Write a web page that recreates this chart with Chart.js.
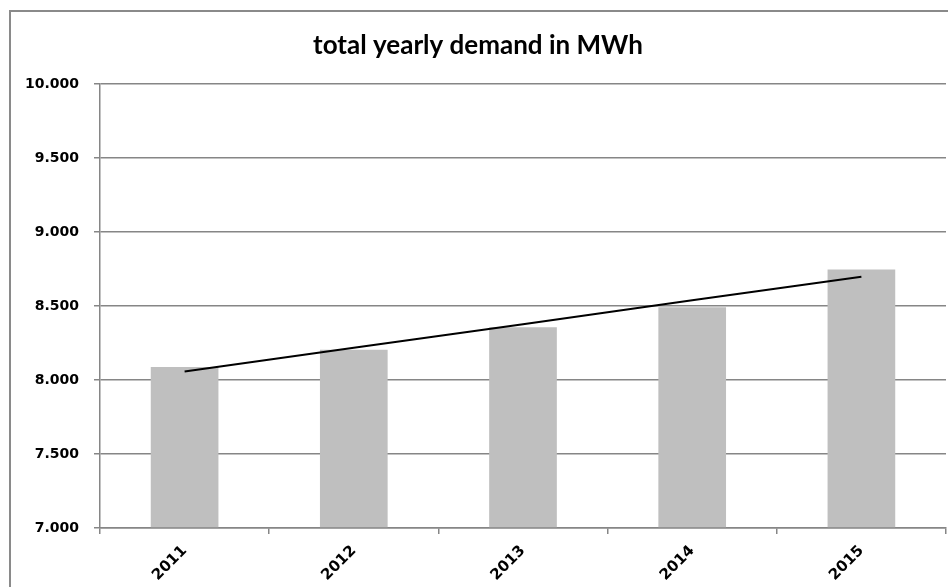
<!DOCTYPE html>
<html>
<head>
<meta charset="utf-8">
<script src="https://cdn.jsdelivr.net/npm/chart.js@4/dist/chart.umd.min.js"></script>
<style>
  html, body { margin: 0; padding: 0; background: #fff; overflow: hidden; }
  #wrap { position: relative; width: 948px; height: 587px; }
  #frame { position: absolute; left: 9px; top: 10px; width: 1000px; height: 1000px; border: 2px solid #8a8a8a; box-sizing: border-box; }
  canvas { position: absolute; left: 0; top: 0; }
</style>
</head>
<body>
<div id="wrap">
  <div id="frame"></div>
  <canvas id="c" width="948" height="587"></canvas>
</div>
<script>
const categories = ["2011", "2012", "2013", "2014", "2015"];
const demand = [8088, 8205, 8357, 8492, 8747];
const trend = [8058, 8218, 8378, 8539, 8699];
const yTicks = [7000, 7500, 8000, 8500, 9000, 9500, 10000];
const titleText = "total yearly demand in MWh";

function fmt(v) {
  const s = String(Math.round(v));
  return s.replace(/\B(?=(\d{3})+(?!\d))/g, ".");
}

new Chart(document.getElementById('c'), {
  data: {
    labels: categories,
    datasets: [
      {
        type: 'line',
        data: trend,
        borderColor: '#000',
        borderWidth: 2,
        pointRadius: 0,
        tension: 0,
        order: 0
      },
      {
        type: 'bar',
        data: demand,
        backgroundColor: '#bfbfbf',
        borderWidth: 0,
        barPercentage: 0.4,
        categoryPercentage: 1,
        base: 7000,
        order: 1
      }
    ]
  },
  options: {
    responsive: false,
    animation: false,
    layout: { padding: { left: 10, right: 2, top: 0, bottom: 0 } },
    plugins: {
      legend: { display: false },
      tooltip: { enabled: false },
      title: {
        display: true,
        text: titleText,
        color: '#000',
        font: { family: 'Lato', size: 26, weight: 'bold' },
        padding: { top: 30, bottom: 23 }
      }
    },
    scales: {
      x: {
        grid: { display: true, drawOnChartArea: false, drawTicks: true, tickLength: 6, color: '#868686', lineWidth: 1.5, offset: true },
        border: { display: true, color: '#868686', width: 1.5 },
        ticks: {
          color: '#000',
          font: { family: 'DejaVu Sans', size: 15, weight: 'bold' },
          maxRotation: 45, minRotation: 45,
          padding: 8
        },
        afterFit: (s) => { s.height = 59; }
      },
      y: {
        min: 7000, max: 10000,
        afterBuildTicks: (s) => { s.ticks = yTicks.map(v => ({ value: v })); },
        grid: { color: '#868686', lineWidth: 1.5, tickLength: 6, drawTicks: true },
        border: { display: true, color: '#868686', width: 1.5 },
        ticks: {
          color: '#000',
          font: { family: 'DejaVu Sans', size: 14, weight: 'bold' },
          padding: 15,
          callback: (v) => fmt(v)
        },
        afterFit: (s) => { s.width = 90; }
      }
    }
  }
});
</script>
</body>
</html>
